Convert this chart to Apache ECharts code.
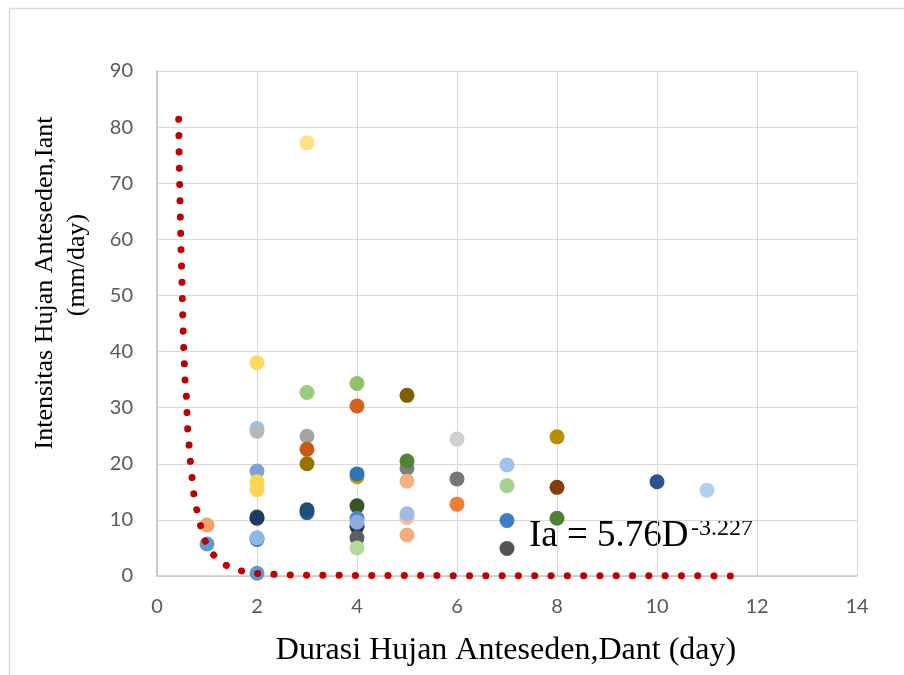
<!DOCTYPE html>
<html>
<head>
<meta charset="utf-8">
<script src="https://cdn.jsdelivr.net/npm/echarts@6/dist/echarts.min.js"></script>
<style>html,body{margin:0;padding:0;background:#fff}#c{width:904px;height:675px}</style>
</head>
<body>
<div id="c"></div>
<script>
// Observed points: duration (day) and intensity (mm/day)
const durasi = [1, 1, 2, 2, 2, 2, 2, 2, 2, 2, 2, 2, 2, 3, 3, 3, 3, 3, 3, 3, 4, 4, 4, 4, 4, 4, 4, 4, 4, 4, 5, 5, 5, 5, 5, 5, 5, 6, 6, 6, 7, 7, 7, 7, 8, 8, 8, 10, 11];
const intensitas = [9.1, 5.7, 38.0, 26.3, 25.8, 18.7, 16.8, 15.4, 10.5, 10.3, 6.5, 6.8, 0.5, 77.2, 32.7, 24.9, 22.6, 20.0, 11.3, 11.8, 34.3, 30.3, 17.7, 18.2, 12.5, 10.3, 8.8, 9.6, 6.8, 5.0, 32.2, 19.2, 20.5, 16.9, 10.4, 11.1, 7.3, 24.4, 17.3, 12.8, 19.8, 16.1, 9.9, 4.9, 24.8, 15.8, 10.3, 16.8, 15.3];
// Power trendline
const trendD = [0.434, 0.446, 0.46, 0.48, 0.5, 0.514, 0.534, 0.56, 0.587, 0.613, 0.64, 0.667, 0.70, 0.733, 0.793, 0.867, 0.96, 1.113, 1.367, 1.66, 1.993, 2.31, 2.63, 3.0, 4.0, 5.0, 6.0, 8.0, 10.0, 11.47];
const trendI = [81.4, 72.7, 66.9, 58.2, 52.5, 46.6, 40.8, 35.0, 32.1, 26.3, 23.5, 20.5, 17.7, 14.8, 11.9, 9.1, 6.3, 3.9, 1.96, 0.95, 0.47, 0.3, 0.2, 0.15, 0.1, 0.08, 0.06, 0.04, 0.03, 0.02];
const xTicks = [0, 2, 4, 6, 8, 10, 12, 14];
const yTicks = [0, 10, 20, 30, 40, 50, 60, 70, 80, 90];
const xTitle = 'Durasi Hujan Anteseden,Dant (day)';
const yTitle1 = 'Intensitas Hujan Anteseden,Iant';
const yTitle2 = '(mm/day)';
const eqMain = 'Ia = 5.76D';
const eqSup = '-3.227';

// marker colours (style), one per point in order
const pointColours = ['#F4A26B', '#5B9BD5', '#FFD966', '#9DC3E6', '#B8B8B8', '#7FA1DA', '#FFD44F', '#FFD54F', '#375623', '#1F3864', '#4472C4', '#8DB8E4', '#5B9BD5', '#FFE083', '#9CCB7A', '#A5A5A5', '#C55A11', '#997300', '#2F5597', '#1F4E79', '#8EC36A', '#D4621A', '#CC9A00', '#2E75B6', '#375623', '#4A86CC', '#203864', '#8FAADC', '#5E5E5E', '#B5D89F', '#7F6000', '#7F7F7F', '#548235', '#F4B183', '#F6BE9A', '#A4B9E4', '#F3AC7C', '#D0D0D0', '#767676', '#ED7D31', '#A0C4E8', '#A9D18E', '#3A80C6', '#545454', '#BA8C00', '#843C0C', '#4E7F32', '#2E5190', '#B0D0EE'];

const chart = echarts.init(document.getElementById('c'), null, {renderer: 'canvas'});
const scatterData = durasi.map((d, i) => ({value: [d, intensitas[i]], itemStyle: {color: pointColours[i]}}));
const trendData = trendD.map((d, i) => [d, trendI[i]]);
const labelFont = 'Lato, "Open Sans", sans-serif';
const serif = '"Liberation Serif", "Times New Roman", serif';

chart.setOption({
  animation: false,
  backgroundColor: '#ffffff',
  grid: {left: 157, right: 47, top: 71, bottom: 99, containLabel: false},
  xAxis: {
    type: 'value', min: xTicks[0], max: xTicks[xTicks.length - 1], interval: 2,
    axisLine: {show: true, lineStyle: {color: '#C8C8C8', width: 1.5}},
    axisTick: {show: false},
    splitLine: {show: true, lineStyle: {color: '#D9D9D9', width: 1}},
    axisLabel: {color: '#595959', fontSize: 20, fontFamily: labelFont, margin: 21}
  },
  yAxis: {
    type: 'value', min: yTicks[0], max: yTicks[yTicks.length - 1], interval: 10,
    axisLine: {show: true, lineStyle: {color: '#C0C0C0', width: 1.5}},
    axisTick: {show: false},
    splitLine: {show: true, lineStyle: {color: '#D9D9D9', width: 1}},
    axisLabel: {color: '#595959', fontSize: 20, fontFamily: labelFont, margin: 24}
  },
  series: [
    {
      type: 'scatter', data: scatterData, symbol: 'circle', symbolSize: 15,
      itemStyle: {opacity: 1}, z: 2
    },
    {
      type: 'line', data: trendData, showSymbol: false, symbol: 'none', smooth: false, clip: false,
      lineStyle: {color: '#C00000', width: 7, type: [0.1, 16.2], cap: 'round', join: 'round'}, z: 3
    }
  ],
  graphic: [
    {type: 'rect', left: 7, top: 6, shape: {x: 0, y: 0, width: 940, height: 720}, style: {fill: 'none', stroke: '#D9D9D9', lineWidth: 1.5}, silent: true, z: -1},
    {type: 'text', x: 506, y: 651, style: {text: xTitle, font: '32px ' + serif, fill: '#000', textAlign: 'center', textVerticalAlign: 'middle'}},
    {type: 'text', x: 45, y: 283, rotation: Math.PI / 2, style: {text: yTitle1, font: '26px ' + serif, fill: '#000', textAlign: 'center', textVerticalAlign: 'middle'}},
    {type: 'text', x: 77, y: 265, rotation: Math.PI / 2, style: {text: yTitle2, font: '26px ' + serif, fill: '#000', textAlign: 'center', textVerticalAlign: 'middle'}},
    {type: 'text', x: 529, y: 536, style: {text: eqMain, font: '37px ' + serif, fill: '#000', textAlign: 'left', textVerticalAlign: 'middle'}},
    {type: 'text', x: 691, y: 529, style: {text: eqSup, font: '24px ' + serif, fill: '#000', textAlign: 'left', textVerticalAlign: 'middle'}}
  ]
});
</script>
</body>
</html>
